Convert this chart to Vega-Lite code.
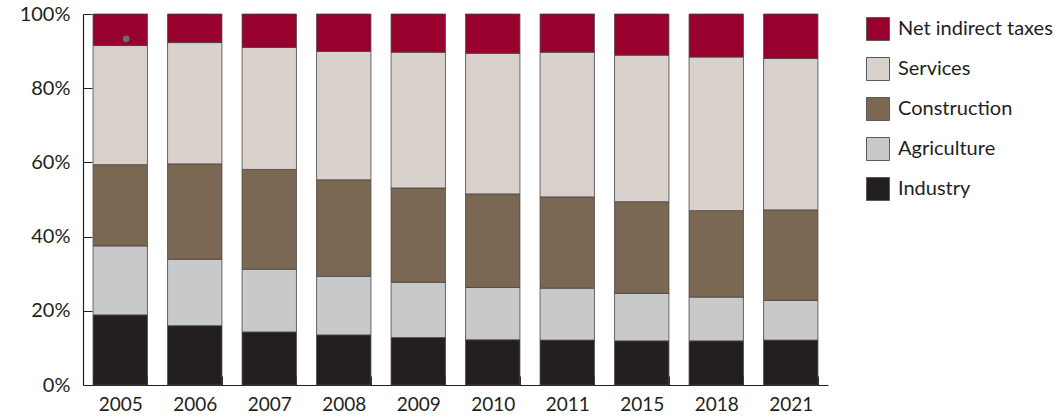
{
  "$schema": "https://vega.github.io/schema/vega-lite/v6.json",
  "width": 745,
  "height": 371,
  "autosize": {"type": "none"},
  "padding": {"left": 83, "top": 14, "right": 232, "bottom": 32},
  "background": "white",
  "config": {
    "font": "Lato",
    "view": {"stroke": null},
    "axis": {"domainColor": "#231f20", "tickColor": "#231f20", "labelColor": "#231f20", "grid": false, "title": null, "labelFont": "Lato"}
  },
  "datasets": {
    "shares": [
      {"year": "2005", "sector": "Industry", "rank": 1, "value": 18.9},
      {"year": "2005", "sector": "Agriculture", "rank": 2, "value": 18.6},
      {"year": "2005", "sector": "Construction", "rank": 3, "value": 21.9},
      {"year": "2005", "sector": "Services", "rank": 4, "value": 32.1},
      {"year": "2005", "sector": "Net indirect taxes", "rank": 5, "value": 8.5},
      {"year": "2006", "sector": "Industry", "rank": 1, "value": 16.0},
      {"year": "2006", "sector": "Agriculture", "rank": 2, "value": 17.9},
      {"year": "2006", "sector": "Construction", "rank": 3, "value": 25.7},
      {"year": "2006", "sector": "Services", "rank": 4, "value": 32.7},
      {"year": "2006", "sector": "Net indirect taxes", "rank": 5, "value": 7.7},
      {"year": "2007", "sector": "Industry", "rank": 1, "value": 14.3},
      {"year": "2007", "sector": "Agriculture", "rank": 2, "value": 16.9},
      {"year": "2007", "sector": "Construction", "rank": 3, "value": 26.9},
      {"year": "2007", "sector": "Services", "rank": 4, "value": 32.9},
      {"year": "2007", "sector": "Net indirect taxes", "rank": 5, "value": 9.0},
      {"year": "2008", "sector": "Industry", "rank": 1, "value": 13.5},
      {"year": "2008", "sector": "Agriculture", "rank": 2, "value": 15.8},
      {"year": "2008", "sector": "Construction", "rank": 3, "value": 26.0},
      {"year": "2008", "sector": "Services", "rank": 4, "value": 34.6},
      {"year": "2008", "sector": "Net indirect taxes", "rank": 5, "value": 10.1},
      {"year": "2009", "sector": "Industry", "rank": 1, "value": 12.8},
      {"year": "2009", "sector": "Agriculture", "rank": 2, "value": 14.9},
      {"year": "2009", "sector": "Construction", "rank": 3, "value": 25.4},
      {"year": "2009", "sector": "Services", "rank": 4, "value": 36.6},
      {"year": "2009", "sector": "Net indirect taxes", "rank": 5, "value": 10.3},
      {"year": "2010", "sector": "Industry", "rank": 1, "value": 12.2},
      {"year": "2010", "sector": "Agriculture", "rank": 2, "value": 14.1},
      {"year": "2010", "sector": "Construction", "rank": 3, "value": 25.2},
      {"year": "2010", "sector": "Services", "rank": 4, "value": 37.9},
      {"year": "2010", "sector": "Net indirect taxes", "rank": 5, "value": 10.6},
      {"year": "2011", "sector": "Industry", "rank": 1, "value": 12.1},
      {"year": "2011", "sector": "Agriculture", "rank": 2, "value": 14.0},
      {"year": "2011", "sector": "Construction", "rank": 3, "value": 24.6},
      {"year": "2011", "sector": "Services", "rank": 4, "value": 39.0},
      {"year": "2011", "sector": "Net indirect taxes", "rank": 5, "value": 10.3},
      {"year": "2015", "sector": "Industry", "rank": 1, "value": 11.9},
      {"year": "2015", "sector": "Agriculture", "rank": 2, "value": 12.8},
      {"year": "2015", "sector": "Construction", "rank": 3, "value": 24.7},
      {"year": "2015", "sector": "Services", "rank": 4, "value": 39.5},
      {"year": "2015", "sector": "Net indirect taxes", "rank": 5, "value": 11.1},
      {"year": "2018", "sector": "Industry", "rank": 1, "value": 11.9},
      {"year": "2018", "sector": "Agriculture", "rank": 2, "value": 11.8},
      {"year": "2018", "sector": "Construction", "rank": 3, "value": 23.3},
      {"year": "2018", "sector": "Services", "rank": 4, "value": 41.4},
      {"year": "2018", "sector": "Net indirect taxes", "rank": 5, "value": 11.6},
      {"year": "2021", "sector": "Industry", "rank": 1, "value": 12.1},
      {"year": "2021", "sector": "Agriculture", "rank": 2, "value": 10.7},
      {"year": "2021", "sector": "Construction", "rank": 3, "value": 24.4},
      {"year": "2021", "sector": "Services", "rank": 4, "value": 40.8},
      {"year": "2021", "sector": "Net indirect taxes", "rank": 5, "value": 12.0}
    ],
    "marker": [
      {"year": "2005", "value": 93.3}
    ]
  },
  "layer": [
    {
      "data": {"name": "shares"},
      "mark": {"type": "bar", "stroke": "#4a4545", "strokeWidth": 0.8},
      "encoding": {
        "x": {
          "field": "year", "type": "ordinal",
          "scale": {"paddingInner": 0.27, "paddingOuter": 0.135},
          "axis": {"labelAngle": 0, "labelFontSize": 19, "tickBand": "extent", "tickSize": -9, "labelPadding": 19, "labelBaseline": "top", "domainWidth": 1.2}
        },
        "y": {
          "field": "value", "type": "quantitative", "stack": "zero",
          "scale": {"domain": [0, 100], "nice": false},
          "axis": {"values": [0, 20, 40, 60, 80, 100], "labelExpr": "datum.value + '%'", "labelFontSize": 20, "tickSize": -9, "labelPadding": 22, "domainWidth": 1.2}
        },
        "order": {"field": "rank", "type": "quantitative", "sort": "ascending"},
        "color": {
          "field": "sector", "type": "nominal",
          "scale": {
            "domain": ["Net indirect taxes", "Services", "Construction", "Agriculture", "Industry"],
            "range": ["#98002e", "#d9d1cc", "#7a6853", "#c8c9cb", "#231f20"]
          },
          "legend": {
            "title": null,
            "orient": "none",
            "legendX": 783,
            "legendY": 3,
            "symbolType": "square",
            "symbolSize": 529,
            "symbolStrokeColor": "#5a5a5a",
            "symbolStrokeWidth": 1,
            "labelFontSize": 20,
            "labelColor": "#231f20",
            "labelFont": "Lato",
            "rowPadding": 12,
            "labelOffset": 8
          }
        }
      }
    },
    {
      "data": {"name": "marker"},
      "mark": {"type": "circle", "size": 45, "color": "#6d6e71", "opacity": 1, "xOffset": 6},
      "encoding": {
        "x": {"field": "year", "type": "ordinal"},
        "y": {"field": "value", "type": "quantitative"}
      }
    }
  ]
}
